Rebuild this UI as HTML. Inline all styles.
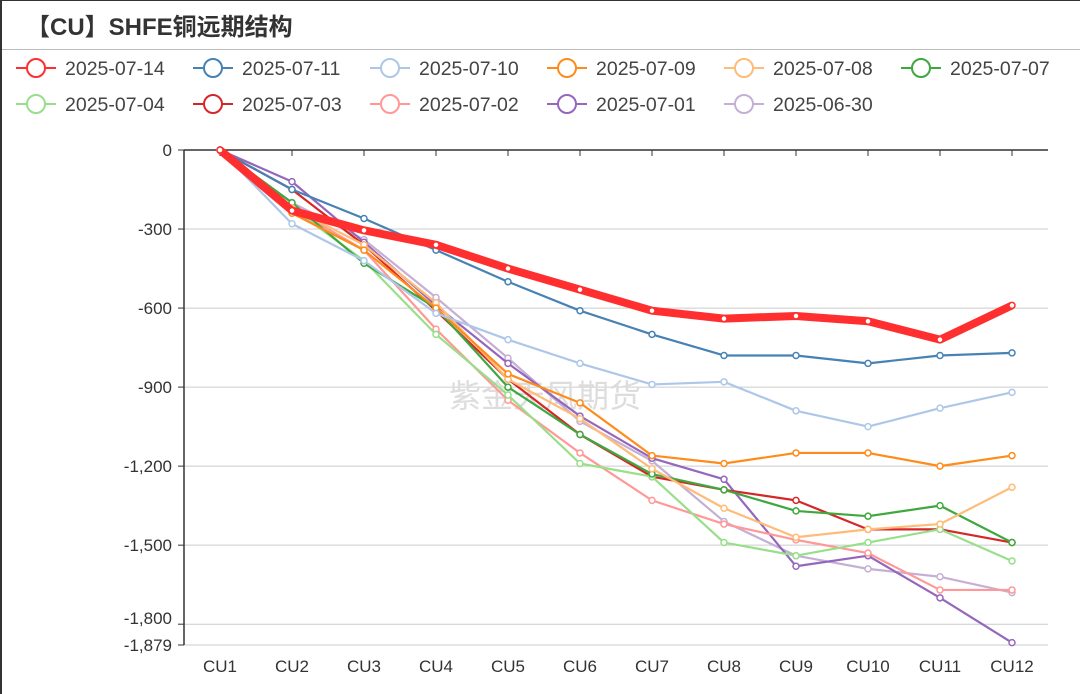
<!DOCTYPE html>
<html><head><meta charset="utf-8"><style>
body{margin:0;background:#fff;width:1080px;height:693px;overflow:hidden;font-family:"Liberation Sans","Noto Sans CJK SC",sans-serif}
#wrap{position:relative;width:1078px;height:693px;border-left:2px solid #333;border-top:1px solid #333}
#title{position:absolute;left:24px;top:6px;font-size:24px;font-weight:bold;color:#333}
#sep{position:absolute;left:0;top:48px;width:1078px;height:1px;background:#bbb}
</style></head><body>
<div id="wrap">
<div id="title">【CU】SHFE铜远期结构</div>
<div id="sep"></div>
<svg id="svg" width="1078" height="692" style="position:absolute;left:0;top:0"></svg>
</div>
<script>
const categories=["CU1","CU2","CU3","CU4","CU5","CU6","CU7","CU8","CU9","CU10","CU11","CU12"];
const seriesNames=["2025-07-14","2025-07-11","2025-07-10","2025-07-09","2025-07-08","2025-07-07","2025-07-04","2025-07-03","2025-07-02","2025-07-01","2025-06-30"];
const colors=["#ff2f2f","#4682b4","#aec7e8","#ff8c1a","#ffbb78","#3ea83e","#98df8a","#d62728","#ff9896","#9467bd","#c5b0d5"];
const s0714=[0,-230,-305,-360,-450,-530,-610,-640,-630,-650,-720,-590];
const s0711=[0,-150,-260,-380,-500,-610,-700,-780,-780,-810,-780,-770];
const s0710=[0,-280,-420,-620,-720,-810,-890,-880,-990,-1050,-980,-920];
const s0709=[0,-240,-380,-600,-850,-960,-1160,-1190,-1150,-1150,-1200,-1160];
const s0708=[0,-220,-360,-580,-870,-1020,-1210,-1360,-1470,-1440,-1420,-1280];
const s0707=[0,-200,-430,-600,-900,-1080,-1230,-1290,-1370,-1390,-1350,-1490];
const s0704=[0,-220,-420,-700,-930,-1190,-1240,-1490,-1540,-1490,-1440,-1560];
const s0703=[0,-150,-360,-610,-870,-1080,-1240,-1290,-1330,-1440,-1440,-1490];
const s0702=[0,-220,-380,-680,-950,-1150,-1330,-1420,-1480,-1530,-1670,-1670];
const s0701=[0,-120,-350,-590,-810,-1010,-1170,-1250,-1580,-1540,-1700,-1870];
const s0630=[0,-200,-340,-560,-790,-1030,-1180,-1410,-1540,-1590,-1620,-1680];
const yTicks=[0,-300,-600,-900,-1200,-1500,-1800,-1879];
const yTickLabels=["0","-300","-600","-900","-1,200","-1,500","-1,800","-1,879"];
const allSeries=[s0714,s0711,s0710,s0709,s0708,s0707,s0704,s0703,s0702,s0701,s0630];

const NS="http://www.w3.org/2000/svg",svg=document.getElementById('svg');
const L=182,R=1046,T=149,B=644,yMin=-1879;
const x=i=>L+(R-L)/categories.length*(i+0.5);
const y=v=>T+(v/yMin)*(B-T);
function mk(t,a,p){const e=document.createElementNS(NS,t);for(const k in a)e.setAttribute(k,a[k]);(p||svg).appendChild(e);return e;}

yTicks.forEach((v,i)=>{
  if(v!==0){const g=mk('line',{x1:L,x2:R,y1:y(v),y2:y(v),stroke:'#ccc','stroke-width':1});
  
  }
  mk('line',{x1:L-6,x2:L,y1:y(v),y2:y(v),stroke:'#333'});
  const t=mk('text',{x:L-12,y:y(v)+(v===-1800?0:v===-1879?6:6),'text-anchor':'end','font-size':17,fill:'#333'});
  t.textContent=yTickLabels[i];
  
  
});
const ya=mk('line',{x1:L,x2:L,y1:T,y2:B,stroke:'#333','stroke-width':1.5});


const xa=mk('line',{x1:L,x2:R,y1:T,y2:T,stroke:'#333','stroke-width':1.5});


categories.forEach((c,i)=>{
  mk('line',{x1:x(i),x2:x(i),y1:T,y2:T+6,stroke:'#333'});
  const t=mk('text',{x:x(i),y:671,'text-anchor':'middle','font-size':17,fill:'#333'});
  t.textContent=c;
  
  
});
const wm=mk('text',{x:543,y:406,'text-anchor':'middle','font-size':32,fill:'#ddd','font-family':'"Noto Sans CJK SC",sans-serif'});
wm.textContent='紫金天风期货';



for(let s=allSeries.length-1;s>=0;s--){
  const d=allSeries[s];
  const g=mk('g',{});
  
  
  mk('polyline',{points:d.map((v,i)=>x(i)+','+y(v)).join(' '),fill:'none',stroke:colors[s],'stroke-width':s===0?8:2.2,'stroke-linejoin':'round'},g);
  d.forEach((v,i)=>{const c=mk('circle',{cx:x(i),cy:y(v),r:3,fill:'#fff',stroke:colors[s],'stroke-width':1.5},g);
  
  });
}
seriesNames.forEach((n,i)=>{
  const row=i<6?0:1,col=i<6?i:i-6;
  const lx=14+col*177,ly=row?103:67;
  const g=mk('g',{});
  
  
  mk('line',{x1:lx,x2:lx+40,y1:ly,y2:ly,stroke:colors[i],'stroke-width':2},g);
  mk('circle',{cx:lx+20,cy:ly,r:9,fill:'#fff',stroke:colors[i],'stroke-width':2},g);
  const t=mk('text',{x:lx+49,y:ly+7,'font-size':19.5,fill:'#444'},g);t.textContent=n;
});
</script>
</body></html>
